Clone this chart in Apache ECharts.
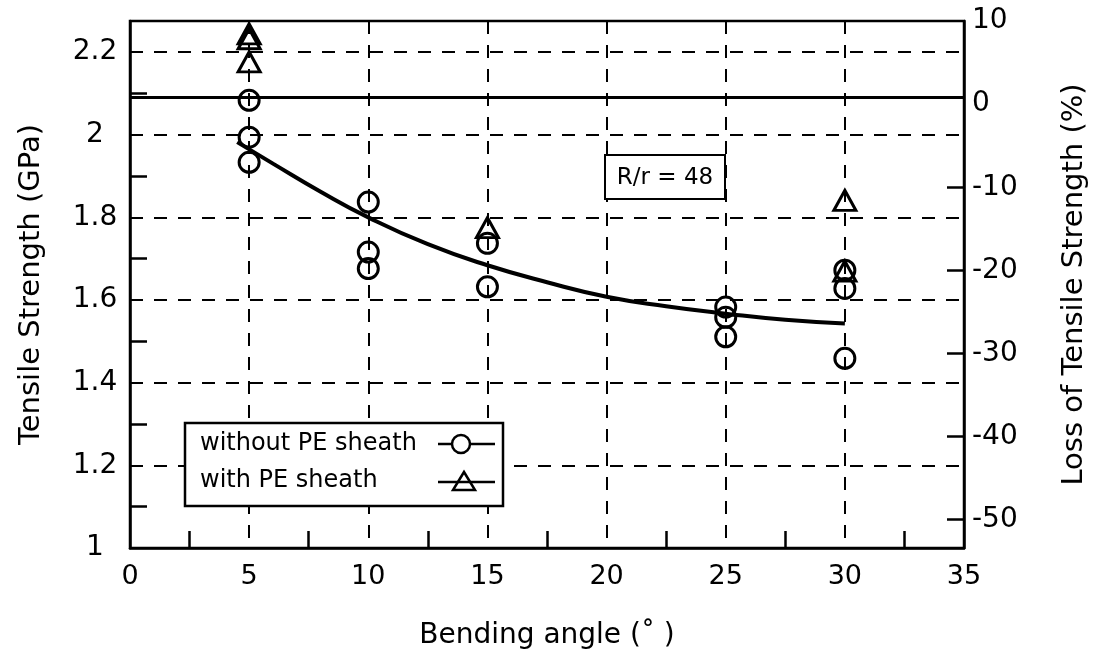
<!DOCTYPE html>
<html>
<head>
    <meta charset="utf-8">
    <title>Tensile strength vs bending angle</title>
    <script src="https://cdn.jsdelivr.net/npm/echarts@6/dist/echarts.min.js"></script>
</head>
<body style="margin:0;background:#fff">
    <div id="main" style="width:1099px;height:651px;"></div>
    <script>
        var FONT = 'DejaVu Sans';

        // without PE sheath (circles)
        var withoutAngle = [5, 5, 5, 10, 10, 10, 15, 15, 25, 25, 25, 30, 30, 30];
        var withoutStrength = [2.083, 1.994, 1.933, 1.837, 1.716, 1.676, 1.737, 1.632, 1.583, 1.558, 1.511, 1.672, 1.628, 1.459];

        // with PE sheath (triangles)
        var withAngle = [5, 5, 5, 15, 30, 30];
        var withStrength = [2.244, 2.232, 2.176, 1.775, 1.841, 1.670];

        // fitted curve
        var fitAngle = [4.5, 6, 8, 10, 12.5, 15, 17.5, 20, 22.5, 25, 27.5, 30];
        var fitStrength = [1.982, 1.930, 1.862, 1.800, 1.735, 1.684, 1.643, 1.608, 1.585, 1.567, 1.552, 1.543];

        // reference strength = 0 % loss
        var refStrength = 2.09;

        // axis ticks
        var xMinorTicks = [2.5, 7.5, 12.5, 17.5, 22.5, 27.5, 32.5];
        var yLabels = [1, 1.2, 1.4, 1.6, 1.8, 2, 2.2];
        var yMinorTicks = [1.1, 1.3, 1.5, 1.7, 1.9, 2.1];
        var lossLabels = [-50, -40, -30, -20, -10, 0, 10];
        var lossTicks = [-50, -40, -30, -20, -10];

        function zip(a, b) {
            return a.map(function (v, i) { return [v, b[i]]; });
        }

        var myChart = echarts.init(document.getElementById('main'));

        var dash = { type: [13, 11], color: '#000', width: 2 };
        var black = { color: '#000', width: 2.5 };
        var hidden = { show: false };

        var option = {
            animation: false,
            backgroundColor: '#fff',
            textStyle: { fontFamily: FONT, color: '#000' },
            grid: {
                left: 130, right: 135, top: 21, bottom: 103,
                outerBoundsMode: 'none',
                show: true, borderColor: '#000', borderWidth: 2.5
            },
            xAxis: [{
                type: 'value', min: 0, max: 35, interval: 5, position: 'bottom',
                name: 'Bending angle (˚ )',
                nameLocation: 'middle', nameGap: 74,
                nameTextStyle: { fontSize: 28, fontFamily: FONT, color: '#000' },
                axisLine: { onZero: false, lineStyle: black },
                axisTick: { show: true, inside: true, length: 17, customValues: xMinorTicks, lineStyle: black },
                axisLabel: { fontSize: 27, fontFamily: FONT, color: '#000', margin: 15 },
                splitLine: hidden
            }, {
                // dashed vertical grid only
                type: 'value', min: 0, max: 35, interval: 5, position: 'top',
                axisLine: { show: false, onZero: false }, axisTick: hidden, axisLabel: hidden,
                splitLine: { show: true, lineStyle: dash }
            }],
            yAxis: [{
                type: 'value', min: 1, max: 2.275, interval: 0.2, position: 'left',
                name: 'Tensile Strength (GPa)',
                nameLocation: 'middle', nameGap: 84,
                nameTextStyle: { fontSize: 29, fontFamily: FONT, color: '#000' },
                axisLine: { show: true, onZero: false, lineStyle: black },
                axisTick: { show: true, inside: true, length: 17, customValues: yMinorTicks, lineStyle: black },
                axisLabel: { fontSize: 28, fontFamily: FONT, color: '#000', margin: 35, align: 'center',
                    customValues: yLabels },
                splitLine: hidden
            }, {
                type: 'value', min: -53.4, max: 10, position: 'right',
                name: 'Loss of Tensile Strength (%)',
                nameLocation: 'middle', nameGap: 96,
                nameTextStyle: { fontSize: 29, fontFamily: FONT, color: '#000' },
                axisLine: { show: true, onZero: false, lineStyle: black },
                axisTick: { show: true, inside: true, length: 17, customValues: lossTicks, lineStyle: black },
                axisLabel: { fontSize: 28, fontFamily: FONT, color: '#000', margin: 8, align: 'left',
                    customValues: lossLabels },
                splitLine: hidden
            }, {
                // dashed horizontal grid only
                type: 'value', min: 1, max: 2.275, interval: 0.2, position: 'right',
                axisLine: { show: false, onZero: false }, axisTick: hidden, axisLabel: hidden,
                splitLine: { show: true, lineStyle: dash }
            }],
            series: [{
                name: 'fit',
                type: 'line',
                yAxisIndex: 0,
                smooth: true,
                showSymbol: false,
                silent: true,
                z: 3,
                lineStyle: { color: '#000', width: 4 },
                data: zip(fitAngle, fitStrength),
                markLine: {
                    silent: true,
                    symbol: ['none', 'none'],
                    label: { show: false },
                    lineStyle: { type: 'solid', color: '#000', width: 3 },
                    data: [{ yAxis: refStrength }]
                }
            }, {
                name: 'without PE sheath',
                type: 'scatter',
                yAxisIndex: 0,
                symbol: 'circle',
                symbolSize: 20,
                z: 4,
                itemStyle: { color: 'transparent', borderColor: '#000', borderWidth: 3, opacity: 1 },
                data: zip(withoutAngle, withoutStrength)
            }, {
                name: 'with PE sheath',
                type: 'scatter',
                yAxisIndex: 0,
                symbol: 'triangle',
                symbolSize: [22, 20],
                z: 5,
                itemStyle: { color: 'transparent', borderColor: '#000', borderWidth: 3, opacity: 1 },
                data: zip(withAngle, withStrength)
            }],
            graphic: [
                // legend box
                { type: 'rect', z: 100, shape: { x: 185, y: 423, width: 318, height: 83 },
                  style: { fill: '#fff', stroke: '#000', lineWidth: 2.5 } },
                { type: 'text', z: 101, style: { text: 'without PE sheath', x: 200, y: 444,
                  fontSize: 24, fontFamily: FONT, fill: '#000', verticalAlign: 'middle' } },
                { type: 'text', z: 101, style: { text: 'with PE sheath', x: 200, y: 481,
                  fontSize: 24, fontFamily: FONT, fill: '#000', verticalAlign: 'middle' } },
                { type: 'line', z: 101, shape: { x1: 438, y1: 444, x2: 495, y2: 444 },
                  style: { stroke: '#000', lineWidth: 2.5 } },
                { type: 'circle', z: 102, shape: { cx: 461, cy: 444, r: 9 },
                  style: { fill: '#fff', stroke: '#000', lineWidth: 2.5 } },
                { type: 'line', z: 101, shape: { x1: 438, y1: 482, x2: 495, y2: 482 },
                  style: { stroke: '#000', lineWidth: 2.5 } },
                { type: 'polygon', z: 102, shape: { points: [[464, 472], [475, 490], [453, 490]] },
                  style: { fill: 'none', stroke: '#000', lineWidth: 2.5 } },
                // R/r annotation
                { type: 'rect', z: 100, shape: { x: 605, y: 155, width: 120, height: 44 },
                  style: { fill: '#fff', stroke: '#000', lineWidth: 2 } },
                { type: 'text', z: 101, style: { text: 'R/r = 48', x: 665, y: 178,
                  fontSize: 23, fontFamily: FONT, fill: '#000', align: 'center', verticalAlign: 'middle' } }
            ]
        };

        myChart.setOption(option);
    </script>
</body>
</html>
